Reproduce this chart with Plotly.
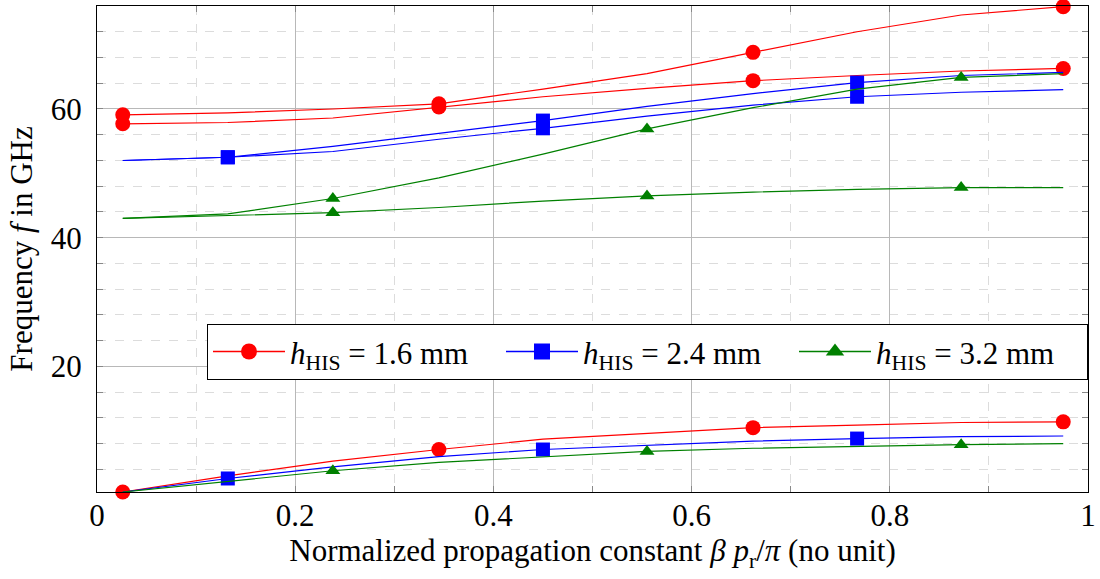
import plotly.graph_objects as go

# normalized propagation constant (x samples of each dispersion curve)
beta = [0.026, 0.132, 0.238, 0.345, 0.450, 0.555, 0.662, 0.767, 0.872, 0.975]

# h_HIS = 1.6 mm
f16_mode1 = [0.5, 3.0, 5.3, 7.1, 8.7, 9.6, 10.5, 10.9, 11.3, 11.4]
f16_mode2 = [57.7, 57.9, 58.6, 60.3, 61.9, 63.2, 64.4, 65.2, 65.9, 66.3]
f16_mode3 = [59.1, 59.4, 60.0, 60.8, 63.1, 65.5, 68.8, 72.0, 74.6, 75.9]

# h_HIS = 2.4 mm
f24_mode1 = [0.5, 2.6, 4.4, 6.0, 7.1, 7.7, 8.4, 8.8, 9.1, 9.2]
f24_mode2 = [52.0, 52.5, 53.4, 55.3, 57.0, 58.9, 60.6, 61.9, 62.6, 63.0]
f24_mode3 = [52.0, 52.5, 54.2, 56.2, 58.2, 60.4, 62.4, 64.1, 65.2, 65.7]

# h_HIS = 3.2 mm
f32_mode1 = [0.5, 2.2, 3.8, 5.1, 6.0, 6.8, 7.3, 7.6, 7.85, 8.0]
f32_mode2 = [43.0, 43.4, 43.9, 44.7, 45.7, 46.5, 47.1, 47.5, 47.8, 47.8]
f32_mode3 = [43.0, 43.7, 46.1, 49.3, 53.0, 56.9, 60.2, 63.1, 64.9, 65.5]

labels = ["<i>h</i><sub>HIS</sub> = 1.6 mm",
          "<i>h</i><sub>HIS</sub> = 2.4 mm",
          "<i>h</i><sub>HIS</sub> = 3.2 mm"]

groups = [
    dict(curves=[f16_mode1, f16_mode2, f16_mode3], color="#ff0000", symbol="circle",
         size=15, legsize=23, marks=[0, 3, 6, 9]),
    dict(curves=[f24_mode1, f24_mode2, f24_mode3], color="#0000ff", symbol="square",
         size=14, legsize=22, marks=[1, 4, 7]),
    dict(curves=[f32_mode1, f32_mode2, f32_mode3], color="#008000", symbol="triangle-up",
         size=13, legsize=21, marks=[2, 5, 8]),
]

FONT = "Liberation Serif"
FS = 31
fig = go.Figure()

for g, lab in zip(groups, labels):
    sizes = [g["size"] if i in g["marks"] else 0 for i in range(len(beta))]
    for c in g["curves"]:
        fig.add_trace(go.Scatter(
            x=beta, y=c, mode="lines+markers", showlegend=False, cliponaxis=False,
            line=dict(color=g["color"], width=1.2),
            marker=dict(symbol=g["symbol"], size=sizes, color=g["color"], opacity=1,
                        line=dict(width=0)),
        ))
    fig.add_trace(go.Scatter(
        x=[None], y=[None], mode="lines+markers", name=lab,
        line=dict(color=g["color"], width=1.5),
        marker=dict(symbol=g["symbol"], size=g["legsize"], color=g["color"], opacity=1,
                    line=dict(width=0)),
    ))

fig.update_layout(
    width=1100, height=579,
    margin=dict(l=97, r=12, t=6, b=87),
    paper_bgcolor="white", plot_bgcolor="white",
    font=dict(family=FONT, size=FS, color="black"),
    legend=dict(
        orientation="h", x=1, xanchor="right", y=0.346, yanchor="top",
        bordercolor="black", borderwidth=1, bgcolor="white",
        font=dict(family=FONT, size=31), itemwidth=72,
        entrywidth=206, entrywidthmode="pixels",
    ),
    xaxis=dict(
        range=[0, 1], dtick=0.2, tick0=0, automargin=False,
        showline=True, linecolor="black", linewidth=1, mirror="allticks",
        ticks="inside", ticklen=6, tickcolor="#888888", ticklabelstandoff=-4,
        showgrid=True, gridcolor="#b8b8b8", gridwidth=1,
        zeroline=False,
        tickfont=dict(family=FONT, size=FS),
        minor=dict(dtick=0.1, ticks="inside", ticklen=6, tickcolor="#888888",
                   showgrid=True, gridcolor="#dcdcdc", griddash="dash", gridwidth=1),
        title=dict(text="Normalized propagation constant <i>β</i> <i>p</i><sub>r</sub>/<i>π</i> (no unit)",
                   font=dict(family=FONT, size=FS), standoff=4),
    ),
    yaxis=dict(
        range=[0.5, 76.0], dtick=20, tick0=0, automargin=False,
        showline=True, linecolor="black", linewidth=1, mirror="allticks",
        ticks="inside", ticklen=6, tickcolor="#888888", ticklabelstandoff=8,
        showgrid=True, gridcolor="#b8b8b8", gridwidth=1,
        zeroline=False,
        tickfont=dict(family=FONT, size=FS),
        minor=dict(dtick=4, ticks="inside", ticklen=6, tickcolor="#888888",
                   showgrid=True, gridcolor="#dcdcdc", griddash="dash", gridwidth=1),
        title=dict(text="Frequency <i>f</i> in GHz", font=dict(family=FONT, size=FS), standoff=8),
    ),
)

fig.write_html("out.html", config={"displayModeBar": False},
               post_script="document.body.style.margin='0';document.body.style.padding='0';")
